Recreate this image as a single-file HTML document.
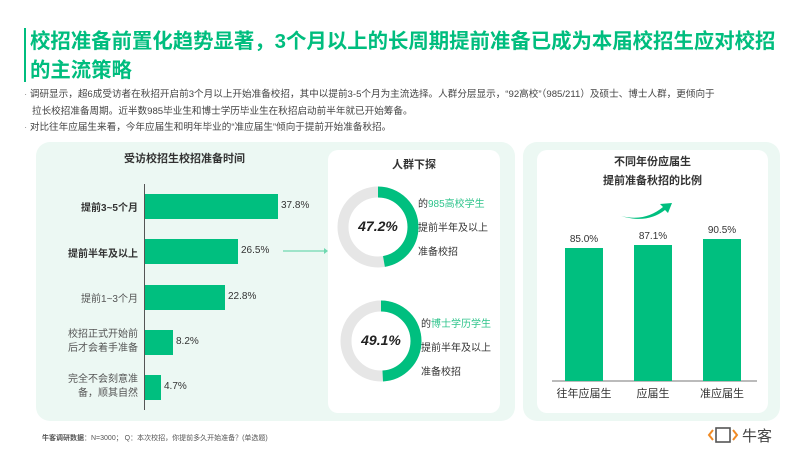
<!DOCTYPE html><html><head><meta charset="utf-8"><style>
body{margin:0;width:800px;height:450px;background:#fff;position:relative;overflow:hidden;font-family:"Liberation Sans","Noto Sans CJK SC",sans-serif;color:#333}
.a{position:absolute;white-space:nowrap}
</style></head><body>
<div class="a" style="left:24px;top:28px;width:2px;height:54px;background:#00bd7e"></div>
<div class="a" style="left:30px;top:28px;font-size:20.4px;font-weight:bold;color:#00bd7e;line-height:29px">校招准备前置化趋势显著，3个月以上的长周期提前准备已成为本届校招生应对校招<br>的主流策略</div>
<div class="a" style="left:24px;top:87px;font-size:9.6px;line-height:16.5px;color:#444">
<span style="color:#999">·</span> 调研显示，超6成受访者在秋招开启前3个月以上开始准备校招，其中以提前3-5个月为主流选择。人群分层显示，“92高校”（985/211）及硕士、博士人群，更倾向于<br>&nbsp;&nbsp;&nbsp;拉长校招准备周期。近半数985毕业生和博士学历毕业生在秋招启动前半年就已开始筹备。<br><span style="color:#999">·</span> 对比往年应届生来看，今年应届生和明年毕业的“准应届生”倾向于提前开始准备秋招。</div>
<div class="a" style="left:36px;top:142px;width:479px;height:279px;background:#ecf8f3;border-radius:14px"></div>
<div class="a" style="left:328px;top:150px;width:172px;height:263px;background:#fff;border-radius:10px"></div>
<div class="a" style="left:523px;top:142px;width:257px;height:279px;background:#ecf8f3;border-radius:14px"></div>
<div class="a" style="left:537px;top:150px;width:231px;height:263px;background:#fff;border-radius:10px"></div>
<div class="a" style="left:124px;top:150px;font-size:11px;font-weight:bold;color:#333">受访校招生校招准备时间</div>
<div class="a" style="left:144px;top:184px;width:1px;height:226px;background:#555"></div>
<div class="a" style="left:145px;top:194px;width:133px;height:25px;background:#00bf7f"></div>
<div class="a" style="left:145px;top:239px;width:93px;height:25px;background:#00bf7f"></div>
<div class="a" style="left:145px;top:285px;width:80px;height:25px;background:#00bf7f"></div>
<div class="a" style="left:145px;top:330px;width:28px;height:25px;background:#00bf7f"></div>
<div class="a" style="left:145px;top:375px;width:16px;height:25px;background:#00bf7f"></div>
<div class="a" style="left:281px;top:200px;font-size:10px">37.8%</div>
<div class="a" style="left:241px;top:245px;font-size:10px">26.5%</div>
<div class="a" style="left:228px;top:291px;font-size:10px">22.8%</div>
<div class="a" style="left:176px;top:336px;font-size:10px">8.2%</div>
<div class="a" style="left:164px;top:381px;font-size:10px">4.7%</div>
<div class="a" style="left:40px;top:199px;width:98px;text-align:right;font-size:10px;font-weight:bold">提前3~5个月</div>
<div class="a" style="left:40px;top:245px;width:98px;text-align:right;font-size:10px;font-weight:bold">提前半年及以上</div>
<div class="a" style="left:40px;top:290px;width:98px;text-align:right;font-size:10px;color:#555">提前1~3个月</div>
<div class="a" style="left:40px;top:328px;width:98px;text-align:right;font-size:10px;line-height:14px;color:#555">校招正式开始前<br>后才会着手准备</div>
<div class="a" style="left:40px;top:373px;width:98px;text-align:right;font-size:10px;line-height:14px;color:#555">完全不会刻意准<br>备，顺其自然</div>
<svg class="a" style="left:0;top:0" width="800" height="450">
<line x1="283" y1="251" x2="324" y2="251" stroke="#6fd8b0" stroke-width="1.2"/><polygon points="324,248 328,251 324,254" fill="#6fd8b0"/>
<circle cx="378" cy="227" r="35" fill="none" stroke="#e6e6e6" stroke-width="11"/>
<circle cx="378" cy="227" r="35" fill="none" stroke="#00bf7f" stroke-width="11" stroke-dasharray="103.8 300" transform="rotate(-90 378 227)"/>
<circle cx="381" cy="341" r="35" fill="none" stroke="#e6e6e6" stroke-width="11"/>
<circle cx="381" cy="341" r="35" fill="none" stroke="#00bf7f" stroke-width="11" stroke-dasharray="108 300" transform="rotate(-90 381 341)"/>
<line x1="552" y1="381" x2="757" y2="381" stroke="#777" stroke-width="1"/>
<rect x="565" y="248" width="38" height="133" fill="#00bf7f"/>
<rect x="634" y="245" width="38" height="136" fill="#00bf7f"/>
<rect x="703" y="239" width="38" height="142" fill="#00bf7f"/>
<path d="M621,216 Q645,222 663,207 L660,204 L672,203 L668,213 L665,210 Q647,224 621,216 Z" fill="#00bf7f"/>
<path d="M713,430 L709,435 L713,440 M733,430 L737,435 L733,440" fill="none" stroke="#f08a24" stroke-width="2"/>
<rect x="716" y="428" width="14" height="14" fill="none" stroke="#555" stroke-width="1.6"/>
</svg>
<div class="a" style="left:328px;top:156px;width:172px;text-align:center;font-size:11px;font-weight:bold">人群下探</div>
<div class="a" style="left:348px;top:218px;width:60px;text-align:center;font-size:14px;font-weight:bold;font-style:italic;color:#222">47.2%</div>
<div class="a" style="left:351px;top:332px;width:60px;text-align:center;font-size:14px;font-weight:bold;font-style:italic;color:#222">49.1%</div>
<div class="a" style="left:418px;top:193px;font-size:10px;line-height:24px">的<span style="color:#2fc48c">985高校学生</span><br>提前半年及以上<br>准备校招</div>
<div class="a" style="left:421px;top:313px;font-size:10px;line-height:24px">的<span style="color:#2fc48c">博士学历学生</span><br>提前半年及以上<br>准备校招</div>
<div class="a" style="left:537px;top:153px;width:231px;text-align:center;font-size:11px;font-weight:bold;line-height:19px">不同年份应届生<br>提前准备秋招的比例</div>
<div class="a" style="left:559px;top:234px;width:50px;text-align:center;font-size:10px">85.0%</div>
<div class="a" style="left:628px;top:231px;width:50px;text-align:center;font-size:10px">87.1%</div>
<div class="a" style="left:697px;top:225px;width:50px;text-align:center;font-size:10px">90.5%</div>
<div class="a" style="left:549px;top:385px;width:70px;text-align:center;font-size:11px">往年应届生</div>
<div class="a" style="left:618px;top:385px;width:70px;text-align:center;font-size:11px">应届生</div>
<div class="a" style="left:687px;top:385px;width:70px;text-align:center;font-size:11px">准应届生</div>
<div class="a" style="left:42px;top:433px;font-size:7px;color:#555"><b>牛客调研数据</b>：N=3000； Q：本次校招，你提前多久开始准备？(单选题)</div>
<div class="a" style="left:742px;top:425px;font-size:15px;color:#444">牛客</div>
</body></html>
